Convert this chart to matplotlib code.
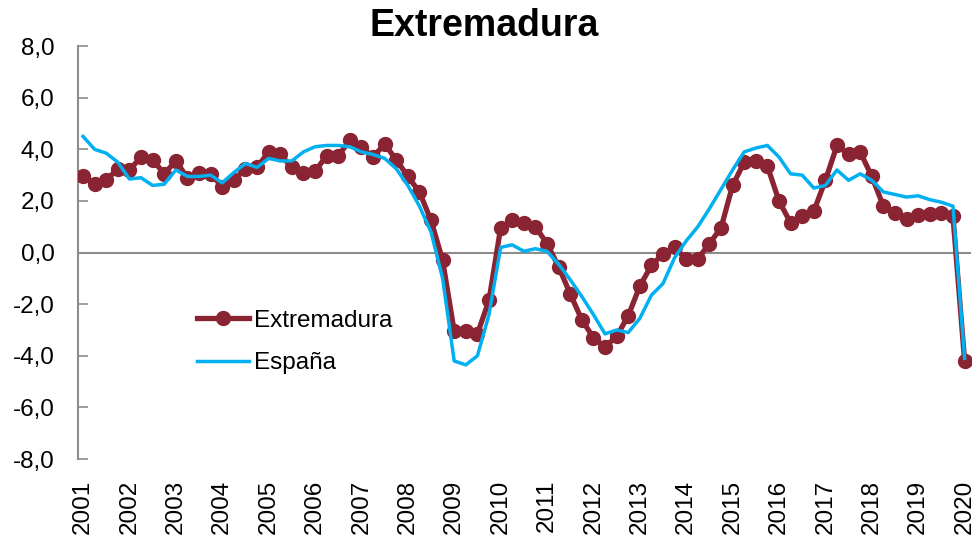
import matplotlib
matplotlib.use("Agg")
import matplotlib.pyplot as plt

# ---------------------------------------------------------------------------
# Data: quarterly growth rates, 2001Q1 .. 2020Q1
# ---------------------------------------------------------------------------
YEARS = list(range(2001, 2021))

EXTREMADURA = [
    2.95, 2.65, 2.80, 3.25, 3.20, 3.70, 3.60, 3.05,   # 2001-2002
    3.55, 2.90, 3.10, 3.05, 2.55, 2.80, 3.25, 3.30,   # 2003-2004
    3.90, 3.80, 3.30, 3.10, 3.15, 3.75, 3.75, 4.35,   # 2005-2006
    4.10, 3.70, 4.20, 3.60, 2.95, 2.35, 1.25, -0.30,  # 2007-2008
    -3.05, -3.05, -3.15, -1.85, 0.95, 1.25, 1.15, 1.00,   # 2009-2010
    0.35, -0.55, -1.60, -2.60, -3.30, -3.65, -3.25, -2.45,  # 2011-2012
    -1.30, -0.50, -0.05, 0.20, -0.25, -0.25, 0.35, 0.95,  # 2013-2014
    2.60, 3.50, 3.55, 3.35, 2.00, 1.15, 1.40, 1.60,   # 2015-2016
    2.80, 4.15, 3.80, 3.90, 2.95, 1.80, 1.55, 1.30,   # 2017-2018
    1.45, 1.50, 1.55, 1.40,                           # 2019
    -4.20,                                            # 2020Q1
]

ESPANA = [
    4.50, 4.00, 3.85, 3.50, 2.85, 2.90, 2.60, 2.65,
    3.20, 2.95, 2.95, 3.00, 2.70, 3.10, 3.45, 3.30,
    3.65, 3.55, 3.55, 3.90, 4.10, 4.15, 4.15, 4.10,
    3.90, 3.80, 3.65, 3.25, 2.60, 1.80, 0.80, -1.00,
    -4.20, -4.35, -4.00, -2.40, 0.20, 0.30, 0.05, 0.15,
    0.05, -0.45, -1.05, -1.70, -2.40, -3.15, -3.00, -3.10,
    -2.55, -1.65, -1.20, -0.20, 0.45, 1.00, 1.70, 2.45,
    3.20, 3.90, 4.05, 4.15, 3.70, 3.05, 3.00, 2.50,
    2.60, 3.20, 2.80, 3.05, 2.80, 2.35, 2.25, 2.15,
    2.20, 2.05, 1.95, 1.80,
    -4.10,
]

Y_TICKS = [-8, -6, -4, -2, 0, 2, 4, 6, 8]

RED = "#8A2432"
BLUE = "#00B0F0"
GREY = "#8C8C8C"

plt.rcParams["font.family"] = ["Liberation Sans", "DejaVu Sans"]

# ---------------------------------------------------------------------------
# Plot
# ---------------------------------------------------------------------------
fig = plt.figure(figsize=(9.78, 5.42), dpi=100)
ax = fig.add_axes([0.0798, 0.153, 0.913, 0.762])

x = list(range(len(EXTREMADURA)))
ax.plot(x, EXTREMADURA, color=RED, linewidth=3.8, marker="o",
        markersize=10, markerfacecolor=RED, markeredgecolor=RED,
        label="Extremadura", zorder=3)
ax.plot(x, ESPANA, color=BLUE, linewidth=2.5, label="España", zorder=4)

ax.axhline(0, color=GREY, linewidth=1.5, zorder=1)

ax.set_xlim(-0.43, len(x) - 1 + 0.55)
ax.set_ylim(-8, 8)

ax.set_yticks(Y_TICKS)
ax.set_yticklabels([f"{v:.1f}".replace(".", ",") for v in Y_TICKS])
ax.tick_params(axis="y", direction="in", length=7, width=1.2,
               colors=GREY, labelcolor="black", labelsize=17.5, pad=17)

ax.set_xticks(x[::4])
ax.set_xticklabels([str(y) for y in YEARS], rotation=90)
ax.tick_params(axis="x", length=0, labelsize=17.5, pad=15)

for side in ("top", "right", "bottom"):
    ax.spines[side].set_visible(False)
ax.spines["left"].set_color(GREY)
ax.spines["left"].set_linewidth(1.5)

fig.text(0.495, 0.952, "Extremadura", ha="center", va="center",
         fontsize=27, fontweight="bold")

ax.legend(loc="upper left", bbox_to_anchor=(0.1226, 0.385), frameon=False,
          fontsize=17.5, handlelength=2.15, handletextpad=0.2,
          labelspacing=0.85, borderaxespad=0)

fig.savefig("out.png", dpi=100)
